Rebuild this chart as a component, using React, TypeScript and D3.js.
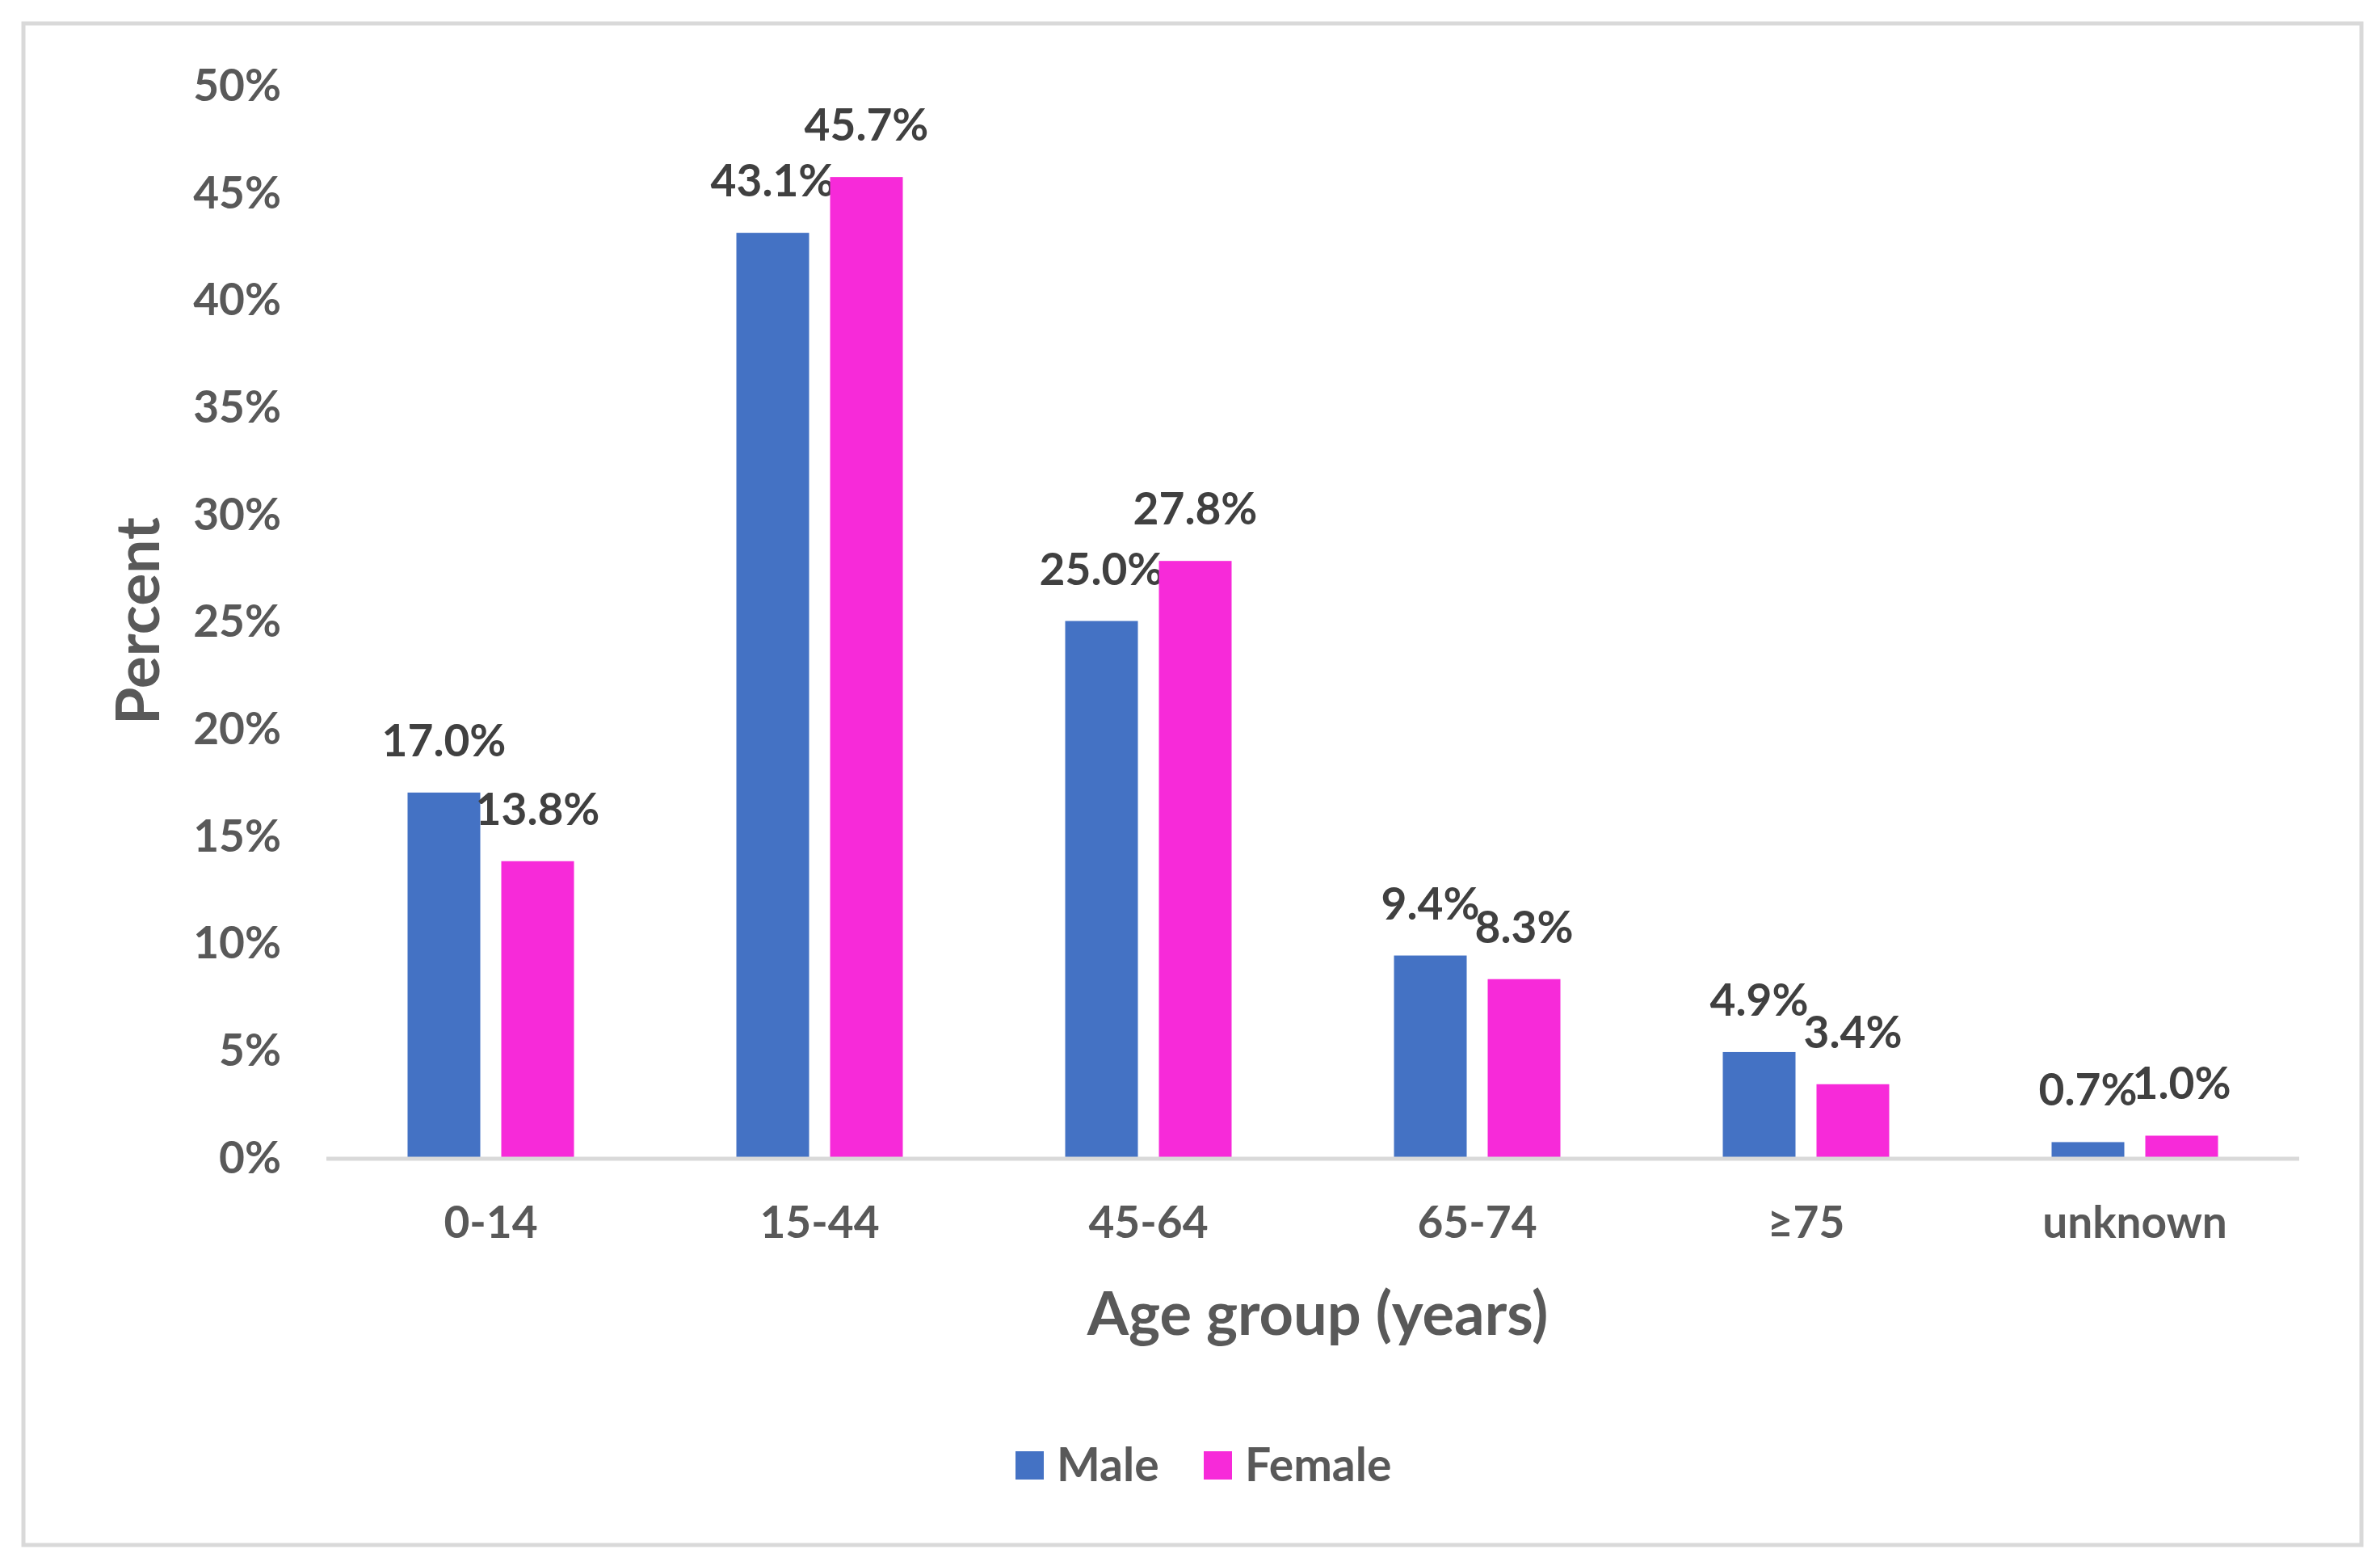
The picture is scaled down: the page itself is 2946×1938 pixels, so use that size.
import React, { useEffect, useRef } from 'react';
import * as d3 from 'd3';

const ageGroups = ['0-14', '15-44', '45-64', '65-74', '≥75', 'unknown'];
const seriesNames = ['Male', 'Female'];
const maleValues = [17.0, 43.1, 25.0, 9.4, 4.9, 0.7];
const femaleValues = [13.8, 45.7, 27.8, 8.3, 3.4, 1.0];
const yTicks = [0, 5, 10, 15, 20, 25, 30, 35, 40, 45, 50];
const colors = ['#4472C4', '#F72AD9'];

const W = 2946;
const H = 1938;
const FONT = 'Lato, Carlito, "Open Sans", sans-serif';

const App: React.FC = () => {
  const svgRef = useRef<SVGSVGElement>(null);

  useEffect(() => {
    if (!svgRef.current) return;
    const svg = d3.select(svgRef.current);
    svg.selectAll('*').remove();

    // chart frame
    svg.append('rect').attr('width', W).attr('height', H).attr('fill', '#fff');
    svg
      .append('rect')
      .attr('x', 29)
      .attr('y', 29)
      .attr('width', 2894)
      .attr('height', 1883)
      .attr('fill', '#fff')
      .attr('stroke', '#d9d9d9')
      .attr('stroke-width', 5);

    const plot = { left: 404, right: 2846, top: 105, bottom: 1432 };

    const x0 = d3
      .scaleBand<string>()
      .domain(ageGroups)
      .range([plot.left, plot.right])
      .paddingInner(0)
      .paddingOuter(0);

    // two bars of ~90px with a ~26px gap, centred in each band
    const barW = 90;
    const barGap = 26;
    const x1 = d3
      .scaleOrdinal<string, number>()
      .domain(seriesNames)
      .range([-(barGap / 2) - barW, barGap / 2]);

    const y = d3.scaleLinear().domain([0, 50]).range([plot.bottom, plot.top]);

    // y tick labels
    svg
      .append('g')
      .selectAll('text')
      .data(yTicks)
      .join('text')
      .attr('x', 348)
      .attr('y', d => y(d))
      .attr('dy', '0.36em')
      .attr('text-anchor', 'end')
      .attr('font-family', FONT)
      .attr('font-weight', 'bold')
      .attr('font-size', 55)
      .attr('fill', '#595959')
      .text(d => `${d}%`);

    // bars + value labels
    const series = [maleValues, femaleValues];
    series.forEach((vals, si) => {
      const name = seriesNames[si];
      const g = svg.append('g');
      g.selectAll('rect')
        .data(vals)
        .join('rect')
        .attr('x', (_, i) => (x0(ageGroups[i]) as number) + x0.bandwidth() / 2 + x1(name))
        .attr('y', d => y(d))
        .attr('width', barW)
        .attr('height', d => y(0) - y(d))
        .attr('fill', colors[si]);

      g.selectAll('text')
        .data(vals)
        .join('text')
        .attr('x', (_, i) => (x0(ageGroups[i]) as number) + x0.bandwidth() / 2 + x1(name) + barW / 2)
        .attr('y', d => y(d) - 45)
        .attr('text-anchor', 'middle')
        .attr('font-family', FONT)
        .attr('font-weight', 'bold')
        .attr('font-size', 55)
        .attr('fill', '#404040')
        .text(d => `${d.toFixed(1)}%`);
    });

    // x axis line
    svg
      .append('line')
      .attr('x1', plot.left)
      .attr('x2', plot.right)
      .attr('y1', plot.bottom + 2)
      .attr('y2', plot.bottom + 2)
      .attr('stroke', '#d9d9d9')
      .attr('stroke-width', 5);

    // x tick labels
    svg
      .append('g')
      .selectAll('text')
      .data(ageGroups)
      .join('text')
      .attr('x', d => (x0(d) as number) + x0.bandwidth() / 2)
      .attr('y', 1532)
      .attr('text-anchor', 'middle')
      .attr('font-family', FONT)
      .attr('font-weight', 'bold')
      .attr('font-size', 55)
      .attr('fill', '#595959')
      .text(d => d);

    // axis titles
    svg
      .append('text')
      .attr('x', (plot.left + plot.right) / 2 + 6)
      .attr('y', 1652)
      .attr('text-anchor', 'middle')
      .attr('font-family', FONT)
      .attr('font-weight', 'bold')
      .attr('font-size', 74)
      .attr('fill', '#595959')
      .text('Age group (years)');

    svg
      .append('text')
      .attr('transform', `translate(197, ${(plot.top + plot.bottom) / 2}) rotate(-90)`)
      .attr('text-anchor', 'middle')
      .attr('font-family', FONT)
      .attr('font-weight', 'bold')
      .attr('font-size', 75)
      .attr('fill', '#595959')
      .text('Percent');

    // legend
    const legend = svg.append('g');
    const items = [
      { name: seriesNames[0], color: colors[0], x: 1257 },
      { name: seriesNames[1], color: colors[1], x: 1490 },
    ];
    items.forEach(it => {
      legend
        .append('rect')
        .attr('x', it.x)
        .attr('y', 1796)
        .attr('width', 35)
        .attr('height', 35)
        .attr('fill', it.color);
      legend
        .append('text')
        .attr('x', it.x + 51)
        .attr('y', 1833)
        .attr('font-family', FONT)
        .attr('font-weight', 'bold')
        .attr('font-size', 57)
        .attr('fill', '#595959')
        .text(it.name);
    });
  }, []);

  return (
    <svg
      ref={svgRef}
      width={W}
      height={H}
      style={{ position: 'absolute', left: 0, top: 0, display: 'block' }}
    />
  );
};

export default App;
